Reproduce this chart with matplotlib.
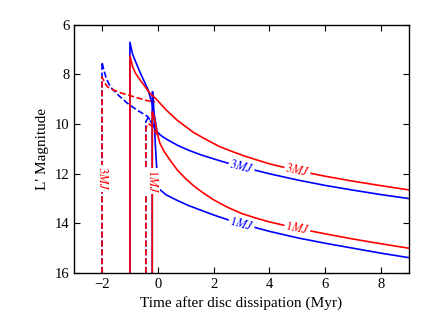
import numpy as np
import matplotlib
matplotlib.use('Agg')
import matplotlib.pyplot as plt

plt.rcParams['font.family'] = ['Liberation Serif', 'DejaVu Serif']
plt.rcParams['mathtext.fontset'] = 'stix'

# time after disc dissipation (Myr) and L' magnitude
# solid curves (planet forms at t=-1 for 3MJ, t=-0.2 for 1MJ)
t_red3 = [-1, -1, -0.9, -0.8, -0.65, -0.45, -0.29, -0.05, 0.3, 0.7, 1.0, 1.3, 1.7, 2.2, 2.7, 3.2,
          4, 5, 6, 7, 8, 9]
m_red3 = [16, 7.25, 7.7, 7.95, 8.2, 8.5, 8.75, 9.0, 9.43, 9.85, 10.1, 10.35, 10.6, 10.9, 11.12, 11.32,
          11.6, 11.87, 12.1, 12.3, 12.48, 12.65]

t_blue3 = [-1, -1, -0.9, -0.65, -0.35, -0.2, -0.1, -0.03, 0.1, 0.3, 0.7, 1.1, 1.5, 2.0, 2.5, 3, 4,
           5, 6, 7, 8, 9]
m_blue3 = [16, 6.7, 7.2, 7.88, 8.62, 9.2, 9.8, 10.3, 10.45, 10.6, 10.85, 11.05, 11.22, 11.4, 11.57, 11.72,
           12.0, 12.25, 12.47, 12.66, 12.84, 13.0]

t_red1 = [-0.2, -0.2, -0.15, -0.1, -0.05, 0, 0.07, 0.2, 0.43, 0.7, 1.0, 1.3, 1.6, 2.0, 2.5, 3,
          3.5, 4, 5, 6, 7, 8, 9]
m_red1 = [16, 9.5, 9.65, 9.9, 10.2, 10.45, 10.76, 11.05, 11.44, 11.85, 12.2, 12.5, 12.75, 13.05, 13.35, 13.6,
          13.78, 13.94, 14.2, 14.42, 14.63, 14.82, 15.0]

t_blue1 = [-0.2, -0.2, -0.18, -0.15, -0.12, -0.1, 0, 0.3, 0.67, 1.1, 1.5, 2.0, 2.5, 3, 4, 5,
           6, 7, 8, 9]
m_blue1 = [16, 8.7, 8.7, 9.3, 10.0, 10.6, 12.57, 12.85, 13.06, 13.28, 13.45, 13.66, 13.85, 14.02, 14.32, 14.58,
           14.8, 15.0, 15.2, 15.38]

# dashed curves (earlier formation: t=-2 for 3MJ, t=-0.43 for 1MJ)
t_red3d = [-2, -2, -1.9, -1.8, -1.6, -1.3, -1.0, -0.7, -0.4, -0.1]
m_red3d = [16, 8.1, 8.35, 8.5, 8.62, 8.75, 8.85, 8.95, 9.05, 9.1]

t_blue3d = [-2, -2, -1.95, -1.85, -1.7, -1.4, -1.1, -0.75, -0.5, -0.36, -0.2, -0.05]
m_blue3d = [16, 7.5, 7.75, 8.15, 8.5, 8.85, 9.15, 9.43, 9.6, 9.7, 9.95, 10.35]

t_red1d = [-0.43, -0.43, -0.38, -0.3, -0.2, -0.1, 0]
m_red1d = [16, 10.2, 10.0, 10.0, 10.1, 10.3, 10.45]

t_blue1d = [-0.43, -0.43, -0.35, -0.25, -0.15, -0.05]
m_blue1d = [16, 9.9, 9.75, 9.9, 10.1, 10.35]

fig = plt.figure(figsize=(4.36, 3.27), dpi=100)
ax = fig.add_axes([0.170, 0.165, 0.768, 0.759])

# blue first, red on top
ax.plot(t_blue3d, m_blue3d, 'b--', lw=1.2)
ax.plot(t_blue1d, m_blue1d, 'b--', lw=1.2)
ax.plot(t_blue3, m_blue3, 'b-', lw=1.2)
ax.plot(t_blue1, m_blue1, 'b-', lw=1.2)
ax.plot(t_red3d, m_red3d, 'r--', lw=1.2)
ax.plot(t_red1d, m_red1d, 'r--', lw=1.2)
ax.plot(t_red3, m_red3, 'r-', lw=1.2)
ax.plot(t_red1, m_red1, 'r-', lw=1.2)

ax.set_xlim(-3, 9)
ax.set_ylim(16, 6)
ax.set_xticks([-2, 0, 2, 4, 6, 8])
ax.set_yticks([6, 8, 10, 12, 14, 16])
ax.tick_params(direction='in', top=True, right=True, labelsize=10.5, length=4, width=0.8)
for s in ax.spines.values():
    s.set_linewidth(1.0)
ax.set_xlabel('Time after disc dissipation (Myr)', fontsize=11)
ax.set_ylabel("L' Magnitude", fontsize=11)


def inline_label(t_arr, m_arr, tpos, text, color):
    t_arr = np.asarray(t_arr)
    m_arr = np.asarray(m_arr)
    keep = t_arr > 0.5
    tt, mm = t_arr[keep], m_arr[keep]
    y = np.interp(tpos, tt, mm)
    p1 = ax.transData.transform((tpos - 0.3, np.interp(tpos - 0.3, tt, mm)))
    p2 = ax.transData.transform((tpos + 0.3, np.interp(tpos + 0.3, tt, mm)))
    ang = np.degrees(np.arctan2(p2[1] - p1[1], p2[0] - p1[0]))
    ax.text(tpos, y, text, color=color, fontsize=9, rotation=ang,
            ha='center', va='center', rotation_mode='anchor',
            bbox=dict(facecolor='white', edgecolor='none', pad=0.6))


inline_label(t_blue3, m_blue3, 3.0, r'$3MJ$', 'b')
inline_label(t_red3, m_red3, 5.0, r'$3MJ$', 'r')
inline_label(t_blue1, m_blue1, 3.0, r'$1MJ$', 'b')
inline_label(t_red1, m_red1, 5.0, r'$1MJ$', 'r')

ax.text(-2, 12.2, r'$3MJ$', color='r', fontsize=9, rotation=270,
        ha='center', va='center',
        bbox=dict(facecolor='white', edgecolor='none', pad=0.6))
ax.text(-0.2, 12.3, r'$1MJ$', color='r', fontsize=9, rotation=270,
        ha='center', va='center',
        bbox=dict(facecolor='white', edgecolor='none', pad=0.6))

fig.savefig('out.png', dpi=100)
